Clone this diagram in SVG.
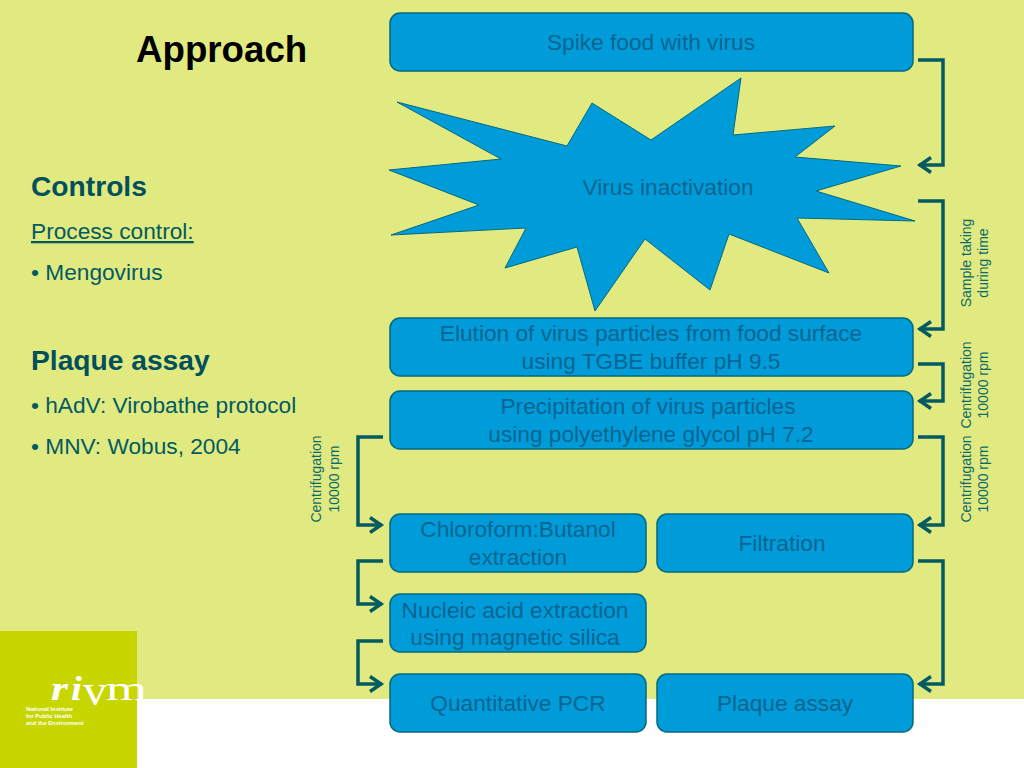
<svg xmlns="http://www.w3.org/2000/svg" width="1024" height="768" viewBox="0 0 1024 768">
<style>
text{font-family:"Liberation Sans",Arial,sans-serif;fill:#0a6492}
.b{fill:#009cd9;stroke:#046a7c;stroke-width:1.5}
.t{font-size:22.700px;text-anchor:middle}
.s{font-size:22.700px;fill:#035a62}
.h{font-size:28.200px;font-weight:bold;fill:#02505c}
.r{font-size:14px;text-anchor:middle;fill:#0a6b6a}
.c{fill:none;stroke:#045a62;stroke-width:3.500;marker-end:url(#a)}
.g{font-family:"Liberation Serif",serif;fill:#fff}
.l{font-size:5.800px;font-weight:bold;fill:#fff}
</style>
<defs>
<marker id="a" markerUnits="userSpaceOnUse" markerWidth="20" markerHeight="24" refX="16" refY="12" orient="auto">
<path d="M4 4.500L15 12L4 19.500" fill="none" stroke="#045a62" stroke-width="3.500"/>
</marker>
</defs>
<rect width="1024" height="699" fill="#e1ea80"/>
<rect y="699" width="1024" height="69" fill="#fff"/>
<g id="logo">
<rect y="631" width="137" height="137" fill="#c8d600"/>
<text class="g" x="51" y="700" font-size="34" font-style="italic" font-weight="bold" textLength="17" lengthAdjust="spacingAndGlyphs">r</text>
<text class="g" x="71" y="700" font-size="34" font-style="italic" font-weight="bold" textLength="11" lengthAdjust="spacingAndGlyphs">i</text>
<text class="g" x="83" y="705" font-size="44" textLength="24" lengthAdjust="spacingAndGlyphs">v</text>
<text class="g" x="106" y="700" font-size="34" textLength="41" lengthAdjust="spacingAndGlyphs">m</text>
<text class="l" x="26" y="711">National Institute</text>
<text class="l" x="26" y="718">for Public Health</text>
<text class="l" x="26" y="725">and the Environment</text>
</g>
<g id="sidebar">
<text x="136" y="62" style="font-size:36.700px;font-weight:bold;fill:#000">Approach</text>
<text x="31" y="196" class="h">Controls</text>
<text x="31" y="239" class="s" text-decoration="underline">Process control:</text>
<text x="31" y="280" class="s">• Mengovirus</text>
<text x="31" y="370" class="h">Plaque assay</text>
<text x="31" y="413" class="s">• hAdV: Virobathe protocol</text>
<text x="31" y="454" class="s">• MNV: Wobus, 2004</text>
</g>
<g id="connectors">
<path class="c" d="M918 60H943V165H919"/>
<path class="c" d="M918 201H943V329H919"/>
<path class="c" d="M918 364H943V401H919"/>
<path class="c" d="M918 437H943V525H919"/>
<path class="c" d="M918 561H943V684H919"/>
<path class="c" d="M383 437H358V525H382"/>
<path class="c" d="M383 561H358V604H382"/>
<path class="c" d="M383 641H358V684H382"/>
</g>
<g id="spike"><rect class="b" x="390" y="13" width="523" height="58" rx="10"/><text class="t" x="651" y="50">Spike food with virus</text></g>
<g id="inactivation"><path class="b" style="stroke-width:1" d="M397 102L567 146L592 103L651 140L741 78L733 135L835 126L795 157L901 166L816 191L915 221L797 218L829 273L729 234L710 290L645 239L595 311L577 247L505 268L526 228L391 235L479 205L389 170L501 159Z"/><text class="t" x="668" y="195">Virus inactivation</text></g>
<g id="elution"><rect class="b" x="390" y="318" width="523" height="58" rx="10"/><text class="t" x="651" y="341">Elution of virus particles from food surface</text><text class="t" x="651" y="369">using TGBE buffer pH 9.5</text></g>
<g id="precipitation"><rect class="b" x="390" y="391" width="523" height="58" rx="10"/><text class="t" x="648" y="414">Precipitation of virus particles</text><text class="t" x="651" y="442">using polyethylene glycol pH 7.2</text></g>
<g id="chloroform"><rect class="b" x="390" y="514" width="256" height="58" rx="10"/><text class="t" x="518" y="537">Chloroform:Butanol</text><text class="t" x="518" y="565">extraction</text></g>
<g id="filtration"><rect class="b" x="657" y="514" width="256" height="58" rx="10"/><text class="t" x="782" y="551">Filtration</text></g>
<g id="nucleic"><rect class="b" x="390" y="594" width="256" height="58" rx="10"/><text class="t" x="515" y="618">Nucleic acid extraction</text><text class="t" x="515" y="645">using magnetic silica</text></g>
<g id="qpcr"><rect class="b" x="390" y="674" width="256" height="58" rx="10"/><text class="t" x="518" y="711">Quantitative PCR</text></g>
<g id="plaque"><rect class="b" x="657" y="674" width="256" height="58" rx="10"/><text class="t" x="785" y="711">Plaque assay</text></g>
<g id="labels">
<text class="r" transform="translate(971 263) rotate(-90)">Sample taking</text>
<text class="r" transform="translate(988 263) rotate(-90)">during time</text>
<text class="r" transform="translate(971 385) rotate(-90)">Centrifugation</text>
<text class="r" transform="translate(988 385) rotate(-90)">10000 rpm</text>
<text class="r" transform="translate(971 479) rotate(-90)">Centrifugation</text>
<text class="r" transform="translate(988 479) rotate(-90)">10000 rpm</text>
<text class="r" transform="translate(321 479) rotate(-90)">Centrifugation</text>
<text class="r" transform="translate(339 479) rotate(-90)">10000 rpm</text>
</g>
</svg>
